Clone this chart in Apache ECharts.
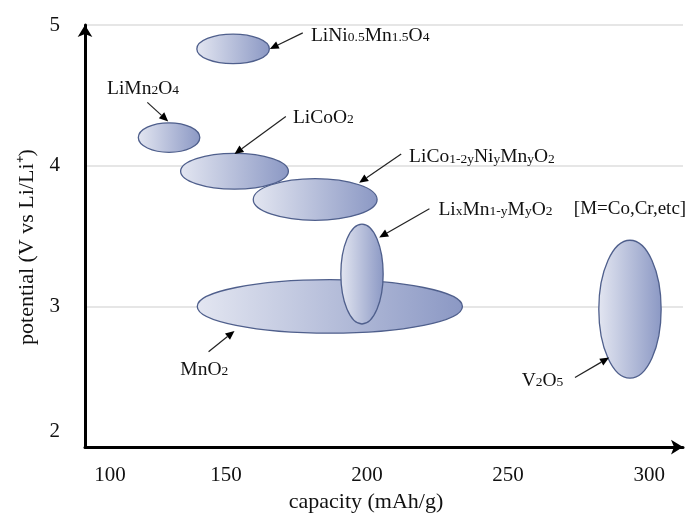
<!DOCTYPE html>
<html><head><meta charset="utf-8">
<script src="https://cdn.jsdelivr.net/npm/echarts@6/dist/echarts.min.js"></script>
<style>html,body{margin:0;padding:0;background:#fff}#c{width:686px;height:518px}</style>
</head><body><div id="c"></div>
<script>
// ---- data ----
const xTicks = [100, 150, 200, 250, 300];
const yTicks = [2, 3, 4, 5];
const materials = ['LiNi0.5Mn1.5O4', 'LiMn2O4', 'LiCoO2', 'LiCo1-2yNiyMnyO2', 'MnO2', 'LixMn1-yMyO2', 'V2O5'];
// rich-text version of each name (subscripts)
const richNames = [
  '{m|LiNi}{s|0.5}{m|Mn}{s|1.5}{m|O}{s|4}',
  '{m|LiMn}{s|2}{m|O}{s|4}',
  '{m|LiCoO}{s|2}',
  '{m|LiCo}{s|1-2y}{m|Ni}{s|y}{m|Mn}{s|y}{m|O}{s|2}',
  '{m|MnO}{s|2}',
  '{m|Li}{s|x}{m|Mn}{s|1-y}{m|M}{s|y}{m|O}{s|2}',
  '{m|V}{s|2}{m|O}{s|5}'
];
const capCenter = [152.5, 129.8, 153.0, 181.6, 186.8, 198.2, 293.2];
const potCenter = [4.83, 4.20, 3.96, 3.76, 3.00, 3.23, 2.98];
const capSpan = [25.7, 21.8, 38.2, 43.9, 94.0, 15.0, 22.1];
const potSpan = [0.21, 0.21, 0.254, 0.296, 0.38, 0.71, 0.98];
const labelCap = [180.1, 107.8, 173.7, 214.9, 133.8, 225.3, 254.8];
const labelPot = [4.93, 4.555, 4.35, 4.068, 2.558, 3.694, 2.48];
const arrowFromCap = [177.2, 122.1, 171.2, 212.1, 143.8, 222.1, 273.7];
const arrowFromPot = [4.944, 4.45, 4.35, 4.083, 2.678, 3.694, 2.495];
const arrowToCap = [165.5, 129.5, 153.0, 197.2, 153.0, 204.3, 285.8];
const arrowToPot = [4.83, 4.315, 4.083, 3.878, 2.826, 3.49, 2.636];
const noteText = '[M=Co,Cr,etc]';
const noteCap = 273.3, notePot = 3.694;

// ---- chart ----
const FONT = 'Liberation Serif';
const chart = echarts.init(document.getElementById('c'), null, {renderer: 'canvas'});
const ellipseData = materials.map((n, i) => [capCenter[i], potCenter[i], capSpan[i], potSpan[i]]);
const annData = materials.map((n, i) => [labelCap[i], labelPot[i], arrowFromCap[i], arrowFromPot[i], arrowToCap[i], arrowToPot[i], i]);
const richStyle = {
  m: {fontFamily: FONT, fontSize: 19.5, lineHeight: 22, color: '#111', verticalAlign: 'bottom'},
  s: {fontFamily: FONT, fontSize: 13.5, lineHeight: 22, color: '#111', verticalAlign: 'bottom', padding: [0, 0, 1, 0]}
};
const grad = () => new echarts.graphic.LinearGradient(0, 0, 1, 0, [
  {offset: 0, color: '#e3e6f1'}, {offset: 1, color: '#8b98c4'}
]);

chart.setOption({
  animation: false,
  backgroundColor: '#fff',
  grid: {left: 85, right: 3, top: 25, bottom: 68},
  xAxis: {
    type: 'value', min: 100, max: 312, interval: 50,
    name: 'capacity (mAh/g)', nameLocation: 'middle', nameGap: 43,
    nameTextStyle: {fontFamily: FONT, fontSize: 22, color: '#111', padding: [0, 36, 0, 0]},
    axisLine: {show: true, symbol: ['none', 'arrow'], symbolSize: [11, 12], lineStyle: {color: '#000', width: 3}},
    axisTick: {show: false},
    splitLine: {show: false},
    axisLabel: {
      margin: 18, color: '#111', fontFamily: FONT, fontSize: 21,
      formatter: v => xTicks.indexOf(v) < 0 ? '' : (v === xTicks[0] ? '{a|' + v + '}' : '{b|' + v + '}'),
      rich: {
        a: {fontFamily: FONT, fontSize: 21, color: '#111', padding: [0, 0, 0, 50]},
        b: {fontFamily: FONT, fontSize: 21, color: '#111'}
      }
    }
  },
  yAxis: {
    type: 'value', min: 2, max: 5, interval: 1,
    name: 'potential (V vs Li/Li\u207A)', nameLocation: 'middle', nameGap: 45, nameRotate: 90,
    nameTextStyle: {fontFamily: FONT, fontSize: 22, color: '#111', padding: [0, 22, 0, 0]},
    axisLine: {show: true, onZero: false, symbol: ['none', 'arrow'], symbolSize: [11, 12], lineStyle: {color: '#000', width: 3}},
    axisTick: {show: false},
    splitLine: {show: true, lineStyle: {color: '#dedede', width: 1.5}},
    axisLabel: {
      margin: 25, color: '#111', fontFamily: FONT, fontSize: 21,
      formatter: v => yTicks.indexOf(v) < 0 ? '' : (v === yTicks[0] ? '{a|' + v + '}' : '{b|' + v + '}'),
      rich: {
        a: {fontFamily: FONT, fontSize: 21, color: '#111', padding: [0, 0, 32, 0]},
        b: {fontFamily: FONT, fontSize: 21, color: '#111'}
      }
    }
  },
  series: [
    {
      type: 'custom', name: 'materials', clip: false, z: 3,
      data: ellipseData,
      renderItem: (params, api) => {
        const c = api.coord([api.value(0), api.value(1)]);
        const s = api.size([api.value(2), api.value(3)]);
        return {
          type: 'ellipse',
          shape: {cx: c[0], cy: c[1], rx: s[0] / 2, ry: s[1] / 2},
          style: {fill: grad(), stroke: '#4f5f8c', lineWidth: 1.3}
        };
      }
    },
    {
      type: 'custom', name: 'labels', clip: false, z: 4,
      data: annData,
      renderItem: (params, api) => {
        const t = api.coord([api.value(0), api.value(1)]);
        const a = api.coord([api.value(2), api.value(3)]);
        const b = api.coord([api.value(4), api.value(5)]);
        const idx = api.value(6);
        const dx = b[0] - a[0], dy = b[1] - a[1];
        const L = Math.sqrt(dx * dx + dy * dy);
        const ux = dx / L, uy = dy / L;
        const hl = 9, hw = 4;
        const bx = b[0] - ux * hl, by = b[1] - uy * hl;
        const children = [
          {type: 'line', shape: {x1: a[0], y1: a[1], x2: bx, y2: by}, style: {stroke: '#222', lineWidth: 1.2}},
          {type: 'polygon', shape: {points: [[b[0], b[1]], [bx - uy * hw, by + ux * hw], [bx + uy * hw, by - ux * hw]]}, style: {fill: '#000'}},
          {type: 'text', x: t[0], y: t[1], style: {text: richNames[idx], rich: richStyle, align: 'left', verticalAlign: 'middle', fill: '#111'}}
        ];
        if (idx === 5) {
          const n = api.coord([noteCap, notePot]);
          children.push({type: 'text', x: n[0], y: n[1], style: {text: noteText, font: '19px ' + FONT, align: 'left', verticalAlign: 'middle', fill: '#111'}});
        }
        return {type: 'group', children: children};
      }
    }
  ]
});
</script>
</body></html>
